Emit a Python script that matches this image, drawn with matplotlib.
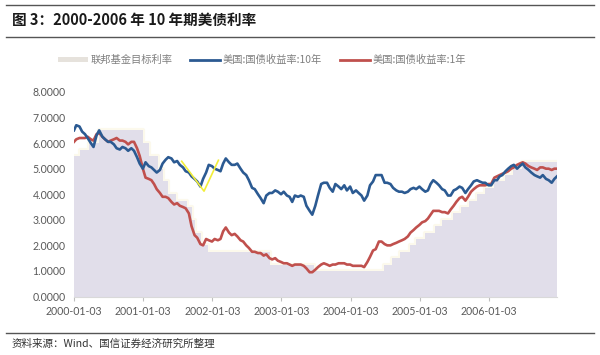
import matplotlib
matplotlib.use("Agg")
import matplotlib.pyplot as plt
import numpy as np
import pandas as pd
from matplotlib.lines import Line2D
from matplotlib.patches import Patch

plt.rcParams['font.family'] = ['Noto Sans CJK SC', 'DejaVu Sans']

# ---------------- data ----------------
fed_dates = ["2000-01-03", "2000-02-02", "2000-03-21", "2000-05-16", "2001-01-03",
             "2001-01-31", "2001-03-20", "2001-04-18", "2001-05-15", "2001-06-27",
             "2001-08-21", "2001-09-17", "2001-10-02", "2001-11-06", "2001-12-11",
             "2002-11-06", "2003-06-25", "2004-06-30", "2004-08-10", "2004-09-21",
             "2004-11-10", "2004-12-14", "2005-02-02", "2005-03-22", "2005-05-03",
             "2005-06-30", "2005-08-09", "2005-09-20", "2005-11-01", "2005-12-13",
             "2006-01-31", "2006-03-28", "2006-05-10", "2006-06-29", "2006-12-29"]
fed_rate = [5.50, 5.75, 6.00, 6.50, 6.00, 5.50, 5.00, 4.50, 4.00, 3.75,
            3.50, 3.00, 2.50, 2.00, 1.75, 1.25, 1.00, 1.25, 1.50, 1.75,
            2.00, 2.25, 2.50, 2.75, 3.00, 3.25, 3.50, 3.75, 4.00, 4.25,
            4.50, 4.75, 5.00, 5.25, 5.25]

# semi-monthly readings (1st and 15th of each month), 2000-01 .. 2006-12
y10 = [6.50, 6.70, 6.65, 6.45, 6.35, 6.20, 6.00, 5.85, 6.30, 6.50, 6.25, 6.15,
       6.05, 6.05, 5.95, 5.80, 5.75, 5.85, 5.80, 5.70, 5.80, 5.70, 5.45, 5.20,
       5.00, 5.25, 5.10, 5.05, 4.95, 4.85, 4.95, 5.20, 5.35, 5.45, 5.40, 5.25,
       5.30, 5.15, 5.05, 4.90, 4.85, 4.70, 4.60, 4.50, 4.30, 4.60, 4.85, 5.15,
       5.10, 5.00, 4.95, 4.90, 5.20, 5.40, 5.25, 5.15, 5.15, 5.20, 5.00, 4.85,
       4.75, 4.55, 4.25, 4.20, 4.00, 3.85, 3.65, 3.95, 4.05, 4.05, 4.15, 4.10,
       4.00, 4.10, 3.95, 3.90, 3.70, 3.95, 3.90, 3.95, 3.90, 3.55, 3.35, 3.20,
       3.55, 3.95, 4.40, 4.45, 4.45, 4.25, 4.10, 4.40, 4.30, 4.20, 4.35, 4.15,
       4.30, 4.05, 4.15, 4.05, 3.95, 3.75, 3.95, 4.35, 4.50, 4.75, 4.75, 4.75,
       4.45, 4.45, 4.40, 4.25, 4.15, 4.10, 4.10, 4.05, 4.10, 4.20, 4.25, 4.20,
       4.30, 4.20, 4.10, 4.15, 4.40, 4.55, 4.45, 4.35, 4.20, 4.15, 3.95, 3.95,
       4.15, 4.20, 4.30, 4.25, 4.05, 4.20, 4.35, 4.50, 4.55, 4.50, 4.45, 4.45,
       4.35, 4.35, 4.55, 4.55, 4.70, 4.75, 4.90, 5.00, 5.10, 5.15, 5.00, 5.10,
       5.20, 5.05, 4.95, 4.85, 4.75, 4.70, 4.65, 4.75, 4.60, 4.55, 4.45, 4.60]
y1 = [6.05, 6.15, 6.20, 6.20, 6.20, 6.25, 6.15, 6.10, 6.35, 6.40, 6.25, 6.15,
      6.05, 6.10, 6.15, 6.20, 6.10, 6.10, 6.05, 5.95, 6.05, 6.05, 5.80, 5.50,
      5.00, 4.65, 4.60, 4.55, 4.40, 4.20, 4.05, 3.90, 3.90, 3.85, 3.70, 3.60,
      3.65, 3.55, 3.50, 3.45, 3.25, 2.75, 2.40, 2.30, 2.05, 2.00, 2.25, 2.20,
      2.15, 2.25, 2.20, 2.25, 2.55, 2.70, 2.50, 2.40, 2.45, 2.35, 2.20, 2.15,
      2.00, 1.90, 1.75, 1.75, 1.70, 1.70, 1.60, 1.65, 1.50, 1.45, 1.50, 1.40,
      1.35, 1.30, 1.30, 1.25, 1.20, 1.25, 1.25, 1.25, 1.20, 1.10, 0.95, 0.95,
      1.05, 1.15, 1.25, 1.30, 1.25, 1.20, 1.25, 1.25, 1.30, 1.30, 1.30, 1.25,
      1.25, 1.20, 1.20, 1.20, 1.20, 1.15, 1.35, 1.55, 1.80, 1.85, 2.15, 2.15,
      2.05, 2.00, 2.00, 2.05, 2.10, 2.15, 2.20, 2.25, 2.35, 2.50, 2.60, 2.70,
      2.80, 2.90, 2.95, 3.05, 3.20, 3.35, 3.35, 3.35, 3.30, 3.30, 3.25, 3.40,
      3.55, 3.70, 3.85, 3.90, 3.75, 3.90, 4.10, 4.20, 4.30, 4.35, 4.35, 4.35,
      4.40, 4.40, 4.65, 4.70, 4.75, 4.80, 4.85, 4.90, 5.00, 5.05, 5.15, 5.20,
      5.25, 5.20, 5.10, 5.05, 5.00, 4.95, 5.05, 5.05, 5.00, 5.00, 4.95, 5.00]
y_end_date = "2006-12-29"
y10_end = 4.70
y1_end = 5.00

# yellow hand-drawn annotation (V shape)
anno_dates = ["2001-07-25", "2001-11-20", "2002-02-04"]
anno_vals = [5.29, 4.12, 5.33]

x_ticks = ["2000-01-03", "2001-01-03", "2002-01-03", "2003-01-03",
           "2004-01-03", "2005-01-03", "2006-01-03"]
y_ticks = [0, 1, 2, 3, 4, 5, 6, 7, 8]

labels = ["联邦基金目标利率", "美国:国债收益率:10年", "美国:国债收益率:1年"]
title = "图 3：2000-2006 年 10 年期美债利率"
source = "资料来源：Wind、国信证券经济研究所整理"

# ---------------- build series ----------------
semi_dates = []
for yr in range(2000, 2007):
    for m in range(1, 13):
        semi_dates.append(pd.Timestamp(yr, m, 3 if (yr == 2000 and m == 1) else 1))
        semi_dates.append(pd.Timestamp(yr, m, 15))
ydates = pd.to_datetime(semi_dates + [pd.Timestamp(y_end_date)])
y10_all = np.array(y10 + [y10_end])
y1_all = np.array(y1 + [y1_end])

fd = pd.to_datetime(fed_dates)
fr = np.array(fed_rate)

blue = '#2b5a92'
red = '#c0504d'
fill_c = '#e1deea'
cream = '#fcf9ec'

fig = plt.figure(figsize=(6.0, 3.55), dpi=100)
ax = fig.add_axes([74/600, 58.5/355, 483/600, 204.5/355])

ax.step(fd, fr, where='post', color=cream, lw=3.0, zorder=1)
ax.fill_between(fd, 0, fr, step='post', color=fill_c, lw=0, zorder=2)
ax.plot(ydates, y10_all, color=blue, lw=1.9, zorder=4)
ax.plot(ydates, y1_all, color=red, lw=1.9, zorder=3)
ax.plot(pd.to_datetime(anno_dates), anno_vals, color='#f2ee3a', lw=1.2, zorder=5)

ax.set_xlim(pd.Timestamp("2000-01-03"), pd.Timestamp(y_end_date))
ax.set_ylim(0, 8)
ax.set_yticks(y_ticks)
ax.set_yticklabels([f"{v:.4f}" for v in y_ticks])
ax.set_xticks(pd.to_datetime(x_ticks))
ax.set_xticklabels(x_ticks)
for lab in ax.get_xticklabels() + ax.get_yticklabels():
    lab.set_fontfamily(['Lato', 'DejaVu Sans'])
    lab.set_fontsize(7.6)
    lab.set_color('#595959')
ax.tick_params(axis='y', length=0, pad=6)
ax.tick_params(axis='x', length=3, color='#bfbfbf', pad=4)
for s in ['top', 'right', 'left']:
    ax.spines[s].set_visible(False)
ax.spines['bottom'].set_color('#d9d9d9')
ax.spines['bottom'].set_linewidth(0.8)

handles = [Patch(facecolor='#e6e2dc', edgecolor='none'),
           Line2D([], [], color=blue, lw=2),
           Line2D([], [], color=red, lw=2)]
leg = fig.legend(handles, labels, loc='center', bbox_to_anchor=(262/600, 1 - 60/355),
                 ncol=3, frameon=False, fontsize=7.4, handlelength=2.9,
                 handleheight=0.5, columnspacing=1.7, handletextpad=0.3)
for t in leg.get_texts():
    t.set_color('#7f7f7f')

# title, rules, source
fig.text(12/600, 1 - 20/355, title, fontsize=10.5, fontweight='bold',
         va='center', ha='left', color='#1a1a1a')
for yy in [5, 37, 333]:
    fig.add_artist(Line2D([6/600, 594/600], [1 - yy/355, 1 - yy/355],
                          color='#555555', lw=1.0))
fig.text(12/600, 1 - 344/355, source, fontsize=7.6, va='center', ha='left',
         color='#333333')

fig.savefig("out.png", dpi=100)
